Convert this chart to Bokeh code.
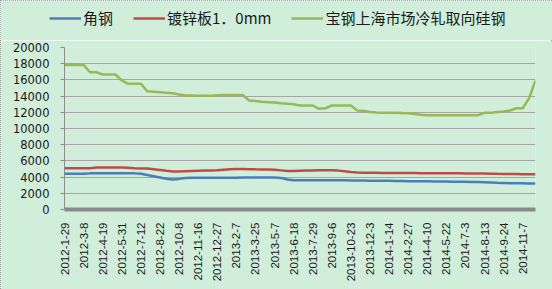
from bokeh.plotting import figure
from bokeh.layouts import column
from bokeh.models import FixedTicker, Legend, LegendItem, Range1d
from bokeh.embed import file_html
from bokeh.resources import INLINE

# ---- data ----
date_labels = ["2012-1-29", "2012-3-8", "2012-4-19", "2012-5-31", "2012-7-12", "2012-8-22",
               "2012-10-8", "2012-11-16", "2012-12-27", "2013-2-7", "2013-3-25", "2013-5-7",
               "2013-6-18", "2013-7-29", "2013-9-6", "2013-10-23", "2013-12-3", "2014-1-14",
               "2014-2-27", "2014-4-10", "2014-5-22", "2014-7-3", "2014-8-13", "2014-9-24",
               "2014-11-7"]
points_per_label = 3

angle_steel = [4400, 4400, 4400, 4400, 4460, 4460, 4460, 4460, 4460, 4460, 4460, 4460,
               4420, 4250, 4100, 3950, 3800, 3700, 3780, 3880, 3910, 3910, 3910, 3910,
               3910, 3910, 3910, 3910, 3950, 3950, 3950, 3950, 3950, 3950, 3900, 3700,
               3600, 3620, 3620, 3620, 3620, 3620, 3620, 3600, 3600, 3590, 3580, 3570,
               3560, 3550, 3550, 3540, 3520, 3510, 3500, 3500, 3490, 3480, 3470, 3460,
               3450, 3440, 3430, 3420, 3410, 3400, 3370, 3330, 3290, 3270, 3250, 3240,
               3230, 3220, 3220]

galv_sheet = [5100, 5100, 5100, 5100, 5100, 5180, 5180, 5180, 5180, 5180, 5150, 5100,
              5070, 5050, 4980, 4880, 4780, 4700, 4690, 4720, 4750, 4780, 4800, 4800,
              4850, 4920, 4980, 5000, 5000, 4980, 4960, 4950, 4940, 4900, 4830, 4750,
              4750, 4780, 4800, 4820, 4840, 4850, 4840, 4800, 4720, 4620, 4560, 4530,
              4530, 4530, 4520, 4520, 4510, 4510, 4500, 4500, 4490, 4490, 4480, 4480,
              4470, 4470, 4470, 4450, 4450, 4450, 4450, 4420, 4400, 4390, 4380, 4370,
              4360, 4360, 4350]

baosteel_si = [17850, 17850, 17850, 17850, 16950, 16950, 16670, 16670, 16670, 15930, 15520, 15520,
               15520, 14600, 14550, 14480, 14400, 14350, 14200, 14080, 14070, 14050, 14050, 14050,
               14100, 14150, 14150, 14150, 14150, 13460, 13400, 13300, 13250, 13200, 13120, 13050,
               13000, 12850, 12840, 12840, 12430, 12500, 12840, 12840, 12840, 12840, 12220, 12150,
               12050, 11980, 11930, 11930, 11930, 11900, 11880, 11780, 11700, 11650, 11650, 11650,
               11650, 11650, 11650, 11650, 11650, 11650, 11930, 11930, 12050, 12100, 12220, 12500,
               12500, 13750, 15930]

series_names = ["角钢", "镀锌板1．0mm", "宝钢上海市场冷轧取向硅钢"]
series_colors = ["#4A7EBB", "#BE4B48", "#98B954"]

y_ticks = list(range(0, 20001, 2000))

# ---- figures ----
bg = "#d0eeda"
W, H, LEG_H = 552, 289, 40
n = len(angle_steel)
xs = list(range(n))

p = figure(width=W, height=H - LEG_H, output_backend="svg", toolbar_location=None,
           x_range=Range1d(0, n - 1), y_range=Range1d(0, 20000),
           min_border_left=64, min_border_right=17, min_border_top=7, min_border_bottom=80)
p.background_fill_color = bg
p.border_fill_color = bg
p.outline_line_color = None

for vals, col in zip([angle_steel, galv_sheet, baosteel_si], series_colors):
    p.line(xs, vals, line_color=col, line_width=2.5)

# axes
p.yaxis.ticker = FixedTicker(ticks=y_ticks)
p.yaxis.axis_line_color = "#8c8c8c"
p.yaxis.major_tick_line_color = "#8c8c8c"
p.yaxis.major_tick_out = 4
p.yaxis.major_tick_in = 0
p.yaxis.minor_tick_line_color = None
p.yaxis.major_label_text_font = "DejaVu Sans"
p.yaxis.major_label_text_font_size = "11.5px"
p.yaxis.major_label_text_color = "#1a1a1a"
p.yaxis.major_label_standoff = 11

tick_pos = [i * points_per_label for i in range(len(date_labels))]
p.xaxis.ticker = FixedTicker(ticks=tick_pos)
p.xaxis.major_label_overrides = {t: lab for t, lab in zip(tick_pos, date_labels)}
p.xaxis.major_label_orientation = 1.5708
p.xaxis.axis_line_color = "#8a8a8a"
p.xaxis.axis_line_width = 4
p.xaxis.major_tick_line_color = None
p.xaxis.minor_tick_line_color = None
p.xaxis.major_label_text_font = "Liberation Sans"
p.xaxis.major_label_text_font_size = "11.5px"
p.xaxis.major_label_text_color = "#1a1a1a"
p.xaxis.major_label_standoff = 7

p.xgrid.grid_line_color = None
p.ygrid.ticker = FixedTicker(ticks=y_ticks)
p.ygrid.grid_line_color = "#a6a6a6"
p.ygrid.grid_line_width = 1

# legend strip on top (its own frame so the legend is not clipped)
lg = figure(width=W, height=LEG_H, output_backend="svg", toolbar_location=None,
            x_range=Range1d(0, 1), y_range=Range1d(0, 1),
            min_border_left=0, min_border_right=0, min_border_top=0, min_border_bottom=0)
lg.axis.visible = False
lg.grid.visible = False
lg.background_fill_color = bg
lg.border_fill_color = bg
lg.outline_line_color = None
leg_rs = [lg.line([5, 6], [5, 6], line_color=c, line_width=2.5) for c in series_colors]
legend = Legend(items=[LegendItem(label=nm, renderers=[r]) for nm, r in zip(series_names, leg_rs)],
                orientation="horizontal", location=(49, 12),
                background_fill_alpha=0, border_line_color=None,
                label_text_font="Noto Sans CJK SC", label_text_font_size="15px",
                label_text_color="#1a1a1a", glyph_width=32, glyph_height=14,
                label_standoff=2, spacing=20, padding=0, margin=0)
lg.add_layout(legend, "center")

layout = column(column(lg, spacing=0), p, spacing=0)
layout.styles = {"outline": "1px dotted #777777", "outline-offset": "-1px"}

open("out.html", "w").write(file_html(layout, INLINE))
